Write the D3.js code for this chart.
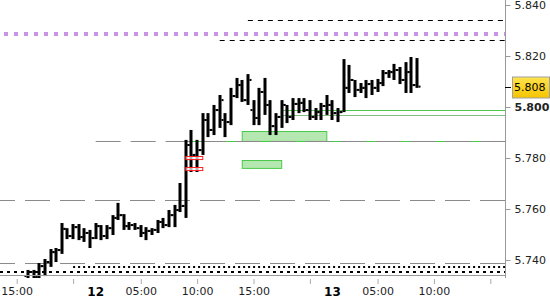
<!DOCTYPE html>
<html>
<head>
<meta charset="utf-8">
<script src="https://cdn.jsdelivr.net/npm/d3@7"></script>
<style>
body { margin: 0; background: #fff; }
text { font-family: "DejaVu Sans", Verdana, sans-serif; }
</style>
</head>
<body>
<div id="chart"></div>
<script>
// 30 minute bars, first bar at 11 16:00
var firstBar = "11 16:00";
var opens = [5.7337, 5.7353, 5.7333, 5.7376, 5.7392, 5.7431, 5.7439, 5.7522, 5.7494, 5.7529,
    5.7490, 5.7506, 5.7486, 5.7533, 5.7494, 5.7525, 5.7565, 5.7576, 5.7533, 5.7537,
    5.7525, 5.7506, 5.7514, 5.7518, 5.7549, 5.7537, 5.7576, 5.7596, 5.7612, 5.7851,
    5.7812, 5.7831, 5.7949, 5.7910, 5.7988, 5.7949, 5.7941, 5.8043, 5.8086, 5.8027,
    5.7988, 5.7957, 5.8059, 5.8008, 5.7925, 5.7961, 5.8008, 5.7961, 5.8012, 5.8016,
    5.7988, 5.7961, 5.7980, 5.8004, 5.8008, 5.7976, 5.7980, 5.8075, 5.8106, 5.8067,
    5.8075, 5.8090, 5.8075, 5.8094, 5.8133, 5.8137, 5.8145, 5.8106, 5.8137, 5.8086];
var highs = [5.7361, 5.7361, 5.7388, 5.7404, 5.7443, 5.7447, 5.7545, 5.7525, 5.7541, 5.7541,
    5.7525, 5.7518, 5.7545, 5.7537, 5.7537, 5.7576, 5.7624, 5.7580, 5.7549, 5.7545,
    5.7537, 5.7529, 5.7525, 5.7557, 5.7565, 5.7596, 5.7616, 5.7702, 5.7871, 5.7910,
    5.7871, 5.7976, 5.7976, 5.8008, 5.8047, 5.7976, 5.8075, 5.8114, 5.8106, 5.8129,
    5.8027, 5.8075, 5.8114, 5.8027, 5.7976, 5.8027, 5.8008, 5.8035, 5.8035, 5.8035,
    5.8027, 5.7996, 5.8016, 5.8047, 5.8027, 5.7996, 5.8188, 5.8165, 5.8106, 5.8094,
    5.8106, 5.8106, 5.8110, 5.8145, 5.8145, 5.8169, 5.8157, 5.8176, 5.8196, 5.8192];
var lows = [5.7325, 5.7325, 5.7325, 5.7337, 5.7373, 5.7392, 5.7424, 5.7482, 5.7482, 5.7478,
    5.7471, 5.7447, 5.7482, 5.7478, 5.7482, 5.7498, 5.7557, 5.7518, 5.7518, 5.7518,
    5.7490, 5.7478, 5.7498, 5.7506, 5.7525, 5.7529, 5.7529, 5.7588, 5.7565, 5.7745,
    5.7745, 5.7812, 5.7882, 5.7890, 5.7918, 5.7882, 5.7929, 5.8035, 5.8020, 5.8008,
    5.7929, 5.7929, 5.7969, 5.7890, 5.7890, 5.7918, 5.7937, 5.7949, 5.7976, 5.7980,
    5.7949, 5.7949, 5.7949, 5.7969, 5.7949, 5.7941, 5.7980, 5.8055, 5.8039, 5.8055,
    5.8035, 5.8047, 5.8059, 5.8082, 5.8114, 5.8106, 5.8090, 5.8055, 5.8055, 5.8075];
var closes = [5.7353, 5.7333, 5.7376, 5.7392, 5.7431, 5.7439, 5.7522, 5.7494, 5.7529, 5.7490,
    5.7506, 5.7486, 5.7533, 5.7494, 5.7525, 5.7565, 5.7576, 5.7533, 5.7537, 5.7525,
    5.7506, 5.7514, 5.7518, 5.7549, 5.7537, 5.7576, 5.7596, 5.7612, 5.7851, 5.7812,
    5.7831, 5.7949, 5.7910, 5.7988, 5.8027, 5.7941, 5.8043, 5.8086, 5.8027, 5.8106,
    5.7957, 5.8059, 5.8008, 5.7925, 5.7961, 5.8008, 5.7961, 5.8012, 5.8016, 5.7988,
    5.7961, 5.7980, 5.8004, 5.8008, 5.7976, 5.7980, 5.8075, 5.8106, 5.8067, 5.8075,
    5.8090, 5.8075, 5.8094, 5.8133, 5.8137, 5.8145, 5.8106, 5.8137, 5.8086, 5.8080];
var lastPrice = 5.808;

var priceTicks = [5.740, 5.760, 5.780, 5.800, 5.820, 5.840];
var timeTicks = ["11 15:00", "11 20:00", "12 05:00", "12 10:00", "12 15:00", "12 20:00", "13 05:00", "13 10:00", "13 15:00"];
var timeLabels = ["15:00", "", "05:00", "10:00", "15:00", "", "05:00", "10:00", ""];
var dayStarts = ["12 01:00", "13 01:00"];
var dayLabels = ["12", "13"];

// horizontal levels
var purpleLevel = 5.8286;
var blackDashLevels = [5.8341, 5.8263];
var blackDashFrom = ["12 14:30", "12 12:00"];
var greenLevels = [5.7988, 5.7969, 5.7867];
var greenFrom = ["12 17:30", "12 17:30", "12 09:30"];
var grayDashLevels = [5.7867, 5.7635, 5.7388];
var grayDashFrom = ["12 01:00", "11 13:30", "11 13:30"];
var dotLevels = [5.7373, 5.7353];
var dotFrom = ["11 20:00", "11 13:30"];

// zones
var greenZoneFrom = ["12 14:00", "12 14:00"];
var greenZoneTo = ["12 21:30", "12 17:30"];
var greenZoneHi = [5.7906, 5.7792];
var greenZoneLo = [5.7867, 5.7761];
var redZoneFrom = ["12 09:00", "12 09:00"];
var redZoneTo = ["12 10:30", "12 10:30"];
var redZoneHi = [5.7809, 5.7764];
var redZoneLo = [5.7797, 5.7752];

// trading sessions (bar slots)
function session(day, from, to) {
    var out = [];
    for (var m = from; m <= to; m += 30) {
        var h = Math.floor(m / 60), mm = m % 60;
        out.push(day + " " + (h < 10 ? "0" : "") + h + ":" + (mm < 10 ? "0" : "") + mm);
    }
    return out;
}
var slots = session("11", 13 * 60 + 30, 21 * 60 + 30)
    .concat(session("12", 60, 21 * 60 + 30))
    .concat(session("13", 60, 16 * 60));

var width = 550, height = 300;
var plotRight = 505, plotBottom = 275;

var svg = d3.select("#chart").append("svg")
    .attr("width", width)
    .attr("height", height);

var x = d3.scalePoint()
    .domain(slots)
    .range([-0.2, 501.6]);

var y = d3.scaleLinear()
    .domain([5.740, 5.840])
    .range([260, 5]);

var start = slots.indexOf(firstBar);
var bars = opens.map(function (o, i) {
    return {t: slots[start + i], o: o, h: highs[i], l: lows[i], c: closes[i]};
});

svg.append("clipPath").attr("id", "clip")
    .append("rect").attr("x", 0).attr("y", 0).attr("width", plotRight).attr("height", 278);

var plot = svg.append("g").attr("clip-path", "url(#clip)");

// zones behind the bars
plot.selectAll(".gzone")
    .data(greenZoneHi)
    .enter().append("rect")
    .attr("x", function (d, i) { return x(greenZoneFrom[i]); })
    .attr("y", function (d) { return Math.round(y(d)) + 0.5; })
    .attr("width", function (d, i) { return x(greenZoneTo[i]) - x(greenZoneFrom[i]); })
    .attr("height", function (d, i) { return y(greenZoneLo[i]) - y(d); })
    .attr("fill", "#b4e8b0")
    .attr("stroke", "#4cc94c")
    .attr("stroke-width", 1);

function hline(price, from, color, sw, dash, offset) {
    var yy = Math.round(y(price)) + (sw % 2 ? 0.5 : 0);
    plot.append("line")
        .attr("x1", from ? x(from) : 0)
        .attr("x2", plotRight)
        .attr("y1", yy).attr("y2", yy)
        .attr("stroke", color)
        .attr("stroke-width", sw)
        .attr("stroke-dasharray", dash || null)
        .attr("stroke-dashoffset", offset || 0);
}

greenLevels.forEach(function (p, i) {
    hline(p, greenFrom[i], i === 1 ? "#7fbf7f" : "#4cc94c", 1);
});
grayDashLevels.forEach(function (p, i) {
    hline(p, i === 0 ? grayDashFrom[i] : null, "#8a8a8a", 1, "25,10", i === 0 ? 0 : 10);
});
dotLevels.forEach(function (p, i) {
    hline(p, i === 0 ? dotFrom[i] : null, "#000", 2, i === 0 ? "2,3" : "3,4");
});
blackDashLevels.forEach(function (p, i) {
    hline(p, blackDashFrom[i], "#000", 1, "5,5");
});
hline(purpleLevel, null, "#c994e6", 4, "4,6", -4);

// OHLC bars
var g = plot.selectAll(".bar")
    .data(bars)
    .enter().append("g");

g.append("rect")
    .attr("x", function (d) { return Math.round(x(d.t)) - 1.5; })
    .attr("y", function (d) { return y(d.h); })
    .attr("width", 3)
    .attr("height", function (d) { return Math.max(2, y(d.l) - y(d.h)); })
    .attr("fill", "#000");

g.append("rect")
    .attr("x", function (d) { return Math.round(x(d.t)) - 3.5; })
    .attr("y", function (d) { return y(d.o) - 1; })
    .attr("width", 2).attr("height", 2)
    .attr("fill", "#000");

g.append("rect")
    .attr("x", function (d) { return Math.round(x(d.t)) + 1.5; })
    .attr("y", function (d) { return y(d.c) - 1; })
    .attr("width", 2).attr("height", 2)
    .attr("fill", "#000");

// red zones on top
plot.selectAll(".rzone")
    .data(redZoneHi)
    .enter().append("rect")
    .attr("x", function (d, i) { return x(redZoneFrom[i]); })
    .attr("y", function (d) { return Math.round(y(d)) + 0.5; })
    .attr("width", function (d, i) { return x(redZoneTo[i]) - x(redZoneFrom[i]); })
    .attr("height", function (d, i) { return y(redZoneLo[i]) - y(d); })
    .attr("fill", "#fff")
    .attr("fill-opacity", 0.7)
    .attr("stroke", "#ff2020")
    .attr("stroke-width", 1);

// bottom border
svg.append("line")
    .attr("x1", 0).attr("x2", plotRight)
    .attr("y1", plotBottom + 0.5).attr("y2", plotBottom + 0.5)
    .attr("stroke", "#999");

// price axis
svg.append("line")
    .attr("x1", plotRight + 0.5).attr("x2", plotRight + 0.5)
    .attr("y1", 0).attr("y2", 278)
    .attr("stroke", "#999");

var yAxis = d3.axisRight(y)
    .tickValues(priceTicks)
    .tickSize(5)
    .tickPadding(4)
    .tickFormat(d3.format(".3f"));

var gy = svg.append("g")
    .attr("transform", "translate(" + (plotRight + 0.5) + ",0)")
    .call(yAxis);
gy.select(".domain").remove();
gy.selectAll("line").attr("stroke", "#999");
gy.selectAll("text")
    .attr("fill", "#222")
    .style("font-size", "11px")
    .style("font-weight", function (d) { return d === 5.8 ? "bold" : null; });

// last price marker
var ly = Math.round(y(lastPrice)) + 0.5;
var grad = svg.append("defs").append("linearGradient")
    .attr("id", "gold").attr("x1", 0).attr("x2", 0).attr("y1", 0).attr("y2", 1);
grad.append("stop").attr("offset", "0%").attr("stop-color", "#ffe34d");
grad.append("stop").attr("offset", "100%").attr("stop-color", "#f5c400");
svg.append("line")
    .attr("x1", plotRight).attr("x2", plotRight + 6)
    .attr("y1", ly).attr("y2", ly)
    .attr("stroke", "#000");
svg.append("rect")
    .attr("x", 512.5).attr("y", ly - 10.5)
    .attr("width", 37).attr("height", 21)
    .attr("fill", "url(#gold)")
    .attr("stroke", "#a0a0a0");
svg.append("text")
    .attr("x", 514).attr("y", ly)
    .attr("dy", "0.32em")
    .attr("fill", "#000")
    .style("font-size", "11px")
    .text(d3.format(".3f")(lastPrice));

// time axis
var xAxis = d3.axisBottom(x)
    .tickValues(timeTicks.filter(function (t) { return slots.indexOf(t) >= 0; }))
    .tickSize(5)
    .tickPadding(3)
    .tickFormat(function (t) { return timeLabels[timeTicks.indexOf(t)]; });

var extra = ["11 15:00"];
var gx = svg.append("g")
    .attr("transform", "translate(0,279)")
    .call(xAxis);
gx.select(".domain").remove();
gx.selectAll("line").attr("stroke", "#aaa");
gx.selectAll("text")
    .attr("fill", "#1e1e28")
    .style("font-size", "11px");

gx.selectAll(".day")
    .data(dayLabels)
    .enter().append("text")
    .attr("class", "day")
    .attr("x", function (d, i) { return x(dayStarts[i]); })
    .attr("y", 8)
    .attr("dy", "0.71em")
    .attr("text-anchor", "middle")
    .attr("fill", "#000")
    .style("font-size", "12px")
    .style("font-weight", "bold")
    .text(function (d) { return d; });
</script>
</body>
</html>
